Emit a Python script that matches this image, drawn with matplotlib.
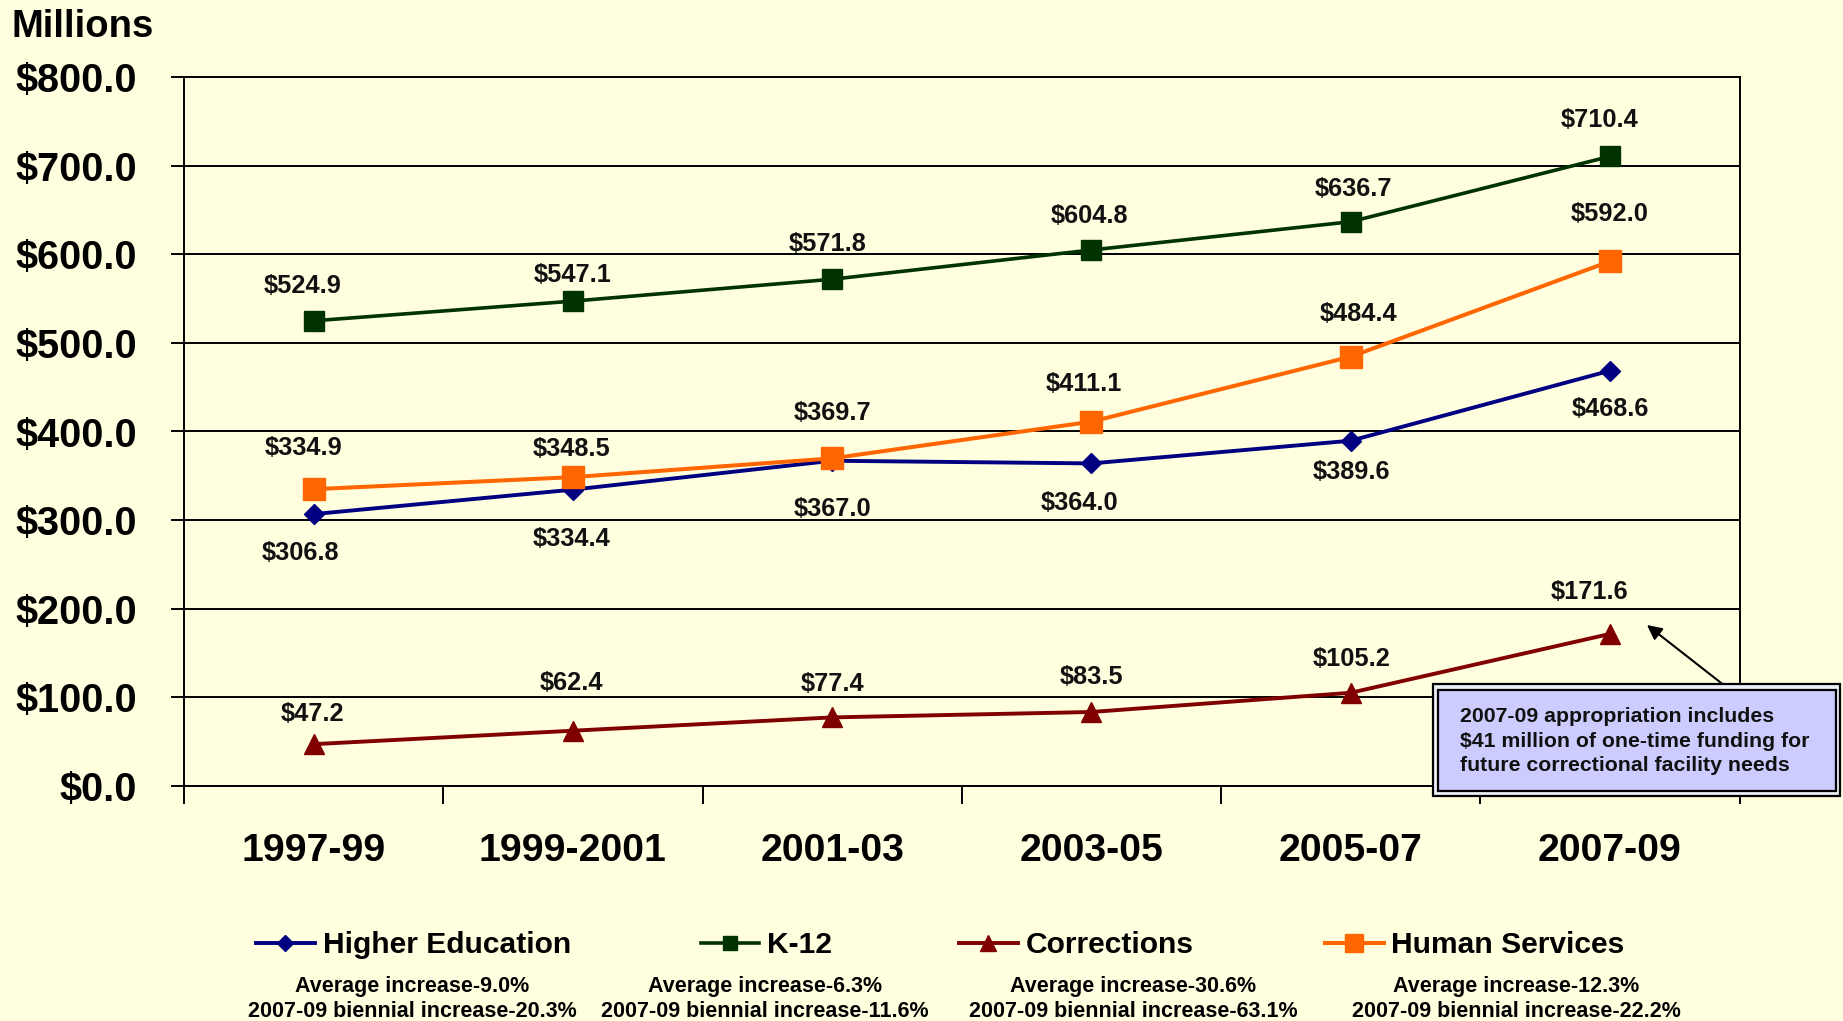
import matplotlib
matplotlib.use('Agg')
import matplotlib.pyplot as plt
import numpy as np
from matplotlib.patches import Rectangle

# ---------------- data ----------------
periods = ['1997-99', '1999-2001', '2001-03', '2003-05', '2005-07', '2007-09']
higher_ed = [306.8, 334.4, 367.0, 364.0, 389.6, 468.6]
k12 = [524.9, 547.1, 571.8, 604.8, 636.7, 710.4]
corrections = [47.2, 62.4, 77.4, 83.5, 105.2, 171.6]
human_services = [334.9, 348.5, 369.7, 411.1, 484.4, 592.0]
series_names = ['Higher Education', 'K-12', 'Corrections', 'Human Services']
avg_increase = ['9.0%', '6.3%', '30.6%', '12.3%']
biennial_increase = ['20.3%', '11.6%', '63.1%', '22.2%']
y_ticks = [0, 100, 200, 300, 400, 500, 600, 700, 800]
note_text = ("2007-09 appropriation includes\n"
             "$41 million of one-time funding for\n"
             "future correctional facility needs")

# ---------------- styles / layout ----------------
BG = '#FFFFE0'
FONT = 'Liberation Sans'
colors = ['#000080', '#003300', '#800000', '#FF6600']
markers = ['D', 's', '^', 's']
msizes = [10.5, 14, 15, 16.5]
lwidths = [2.8, 2.6, 2.8, 2.9]
# label offsets in points (dx, dy) for each series/point
label_offsets = [
    [(-9.3, -27.9), (-0.8, -35.5), (0, -34.7), (-8.5, -28.8), (0.8, -22.8), (0, -27.9)],
    [(-7.6, 25.4), (0, 18.6), (-3.4, 25.4), (-1.7, 24.5), (1.7, 23.7), (-7.6, 26.2)],
    [(-0.8, 22.0), (-0.8, 34.7), (0, 23.7), (0, 25.4), (0.8, 24.5), (-14.4, 30.5)],
    [(-7.6, 29.6), (-0.8, 20.3), (0, 33.0), (-5.1, 27.1), (5.9, 30.5), (0, 33.8)],
]

plt.rcParams['font.family'] = [FONT, 'DejaVu Sans']
plt.rcParams['font.weight'] = 'bold'

W, H = 1843, 1021
fig = plt.figure(figsize=(W / 100, H / 100), dpi=100, facecolor=BG)
ax = fig.add_axes([184 / W, (H - 786) / H, (1739.6 - 184) / W, (786 - 77) / H])
ax.set_facecolor(BG)

x = np.arange(len(periods))
all_series = [higher_ed, k12, corrections, human_services]
lines = []
for vals, name, c, m, ms, lw in zip(all_series, series_names, colors, markers, msizes, lwidths):
    ln, = ax.plot(x, vals, color=c, lw=lw, marker=m, markersize=ms,
                  markerfacecolor=c, markeredgecolor=c, label=name, zorder=3)
    lines.append(ln)

for vals, offs in zip(all_series, label_offsets):
    for xi, v, (dx, dy) in zip(x, vals, offs):
        ax.annotate(f'${v:.1f}', (xi, v), xytext=(dx, dy), textcoords='offset points',
                    ha='center', va='center', fontsize=18.3, fontweight='bold', color='#111111',
                    zorder=4)

ax.set_xlim(-0.5, len(periods) - 0.5)
ax.set_ylim(0, 800)
ax.set_yticks(y_ticks)
ax.set_yticklabels([f'${v:.1f}' for v in y_ticks], fontsize=28.5, fontweight='bold')
ax.yaxis.grid(True, color='black', lw=1.4, zorder=1)
ax.set_axisbelow(True)
ax.tick_params(axis='y', direction='out', length=9.4, width=1.4, pad=24.5, colors='black')

ax.set_xticks(np.arange(-0.5, len(periods), 1.0))
ax.set_xticklabels([])
ax.tick_params(axis='x', which='major', direction='out', length=13, width=1.4)
ax.set_xticks(x, minor=True)
ax.set_xticklabels(periods, minor=True, fontsize=28.3, fontweight='bold')
ax.tick_params(axis='x', which='minor', length=0, pad=34)

for sp in ax.spines.values():
    sp.set_linewidth(1.4)
    sp.set_color('black')

fig.text(12 / W, 1 - 37 / H, 'Millions', ha='left', va='baseline',
         fontsize=27.5, fontweight='bold')

# legend entries
leg_x = [256, 700.5, 959, 1324.7]
sub_x = [412.6, 765.2, 1133, 1516]
for ln, lx, sx, a, b in zip(lines, leg_x, sub_x, avg_increase, biennial_increase):
    leg = fig.legend(handles=[ln], loc='center left', bbox_to_anchor=(lx / W, 1 - 945 / H),
                     frameon=False, borderpad=0, borderaxespad=0, handlelength=1.96,
                     handletextpad=0.26, markerscale=0.75,
                     prop={'family': FONT, 'weight': 'bold', 'size': 21.6})
    fig.text(sx / W, 1 - 999 / H, f'Average increase-{a}\n2007-09 biennial increase-{b}',
             ha='center', va='center', multialignment='center', fontsize=15.5,
             fontweight='bold', linespacing=1.22)

# annotation box
fig.add_artist(Rectangle((1433 / W, 1 - 796 / H), 407 / W, 112 / H, transform=fig.transFigure,
                         facecolor='#EEEEF8', edgecolor='black', lw=1.6, zorder=5))
fig.add_artist(Rectangle((1437.5 / W, 1 - 790.5 / H), 398 / W, 101 / H, transform=fig.transFigure,
                         facecolor='#CCCCFF', edgecolor='black', lw=1.6, zorder=6))
fig.text(1460 / W, 1 - 741 / H, note_text, ha='left', va='center', fontsize=15.3,
         fontweight='bold', linespacing=1.38, color='#111111', zorder=7)
ax.annotate('', xy=(1647 / W, 1 - 625 / H), xycoords='figure fraction',
            xytext=(1725 / W, 1 - 686 / H), textcoords='figure fraction',
            arrowprops=dict(arrowstyle='-|>', color='black', lw=1.5, mutation_scale=22,
                            shrinkA=0, shrinkB=0))

fig.savefig('out.png', dpi=100, facecolor=BG)
